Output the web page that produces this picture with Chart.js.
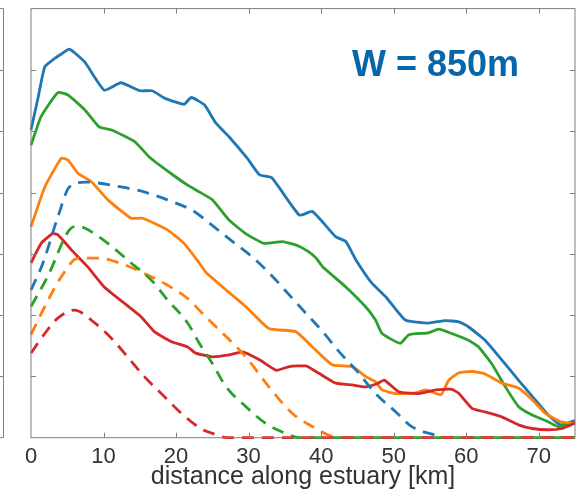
<!DOCTYPE html>
<html>
<head>
<meta charset="utf-8">
<script src="https://cdn.jsdelivr.net/npm/chart.js@4"></script>
<style>
  body { margin: 0; background: #fff; }
</style>
</head>
<body>
<canvas id="estuaryChart" width="588" height="497"></canvas>
<script>
// x ticks (km)
const xTicks = [0, 10, 20, 30, 40, 50, 60, 70];

// solid lines
const blueX = [0, 1.0, 1.9, 3.3, 4.2, 5.3, 7.4, 10.1, 12.4, 15.0, 16.7, 18.4, 21.1, 22.1, 23.9, 25.5, 27.3, 29.8, 31.5, 33.2, 37.0, 38.8, 42.0, 43.4, 44.8, 47.0, 48.9, 51.6, 54.8, 57.1, 59.0, 60.3, 62.6, 64.9, 67.2, 69.5, 71.3, 73.0, 75];
const blueY = [5.02, 5.56, 6.05, 6.19, 6.26, 6.34, 6.13, 5.67, 5.79, 5.66, 5.66, 5.54, 5.44, 5.55, 5.43, 5.13, 4.91, 4.56, 4.29, 4.24, 3.63, 3.69, 3.28, 3.20, 2.90, 2.52, 2.30, 1.92, 1.87, 1.91, 1.89, 1.81, 1.59, 1.27, 0.94, 0.62, 0.37, 0.21, 0.28];

const greenX = [0, 1.4, 3.7, 5.1, 7.4, 9.4, 11.1, 14.3, 16.3, 19.3, 21.6, 23.2, 25.0, 27.3, 29.6, 32.1, 34.7, 37.0, 38.3, 39.3, 40.2, 43.4, 46.1, 47.5, 48.4, 50.9, 52.1, 54.8, 56.2, 58.0, 60.3, 61.7, 63.5, 65.4, 67.2, 69.1, 71.3, 72.7, 75];
const greenY = [4.77, 5.24, 5.63, 5.59, 5.35, 5.07, 5.02, 4.83, 4.58, 4.31, 4.12, 4.01, 3.88, 3.55, 3.33, 3.17, 3.20, 3.12, 3.03, 2.93, 2.79, 2.46, 2.14, 1.92, 1.70, 1.54, 1.68, 1.71, 1.77, 1.70, 1.59, 1.48, 1.21, 0.83, 0.51, 0.37, 0.26, 0.18, 0.26];

const orangeX = [0, 1.9, 4.2, 5.1, 6.5, 8.3, 10.6, 13.8, 15.4, 18.8, 21.1, 23.2, 24.1, 26.9, 29.6, 32.8, 36.5, 38.8, 41.5, 44.3, 46.1, 47.5, 48.4, 50.3, 53.0, 54.4, 56.5, 57.6, 59.0, 60.8, 62.6, 64.9, 67.2, 69.1, 70.9, 73.0, 75];
const orangeY = [3.44, 4.09, 4.56, 4.53, 4.31, 4.18, 3.88, 3.58, 3.58, 3.39, 3.17, 2.85, 2.70, 2.41, 2.14, 1.78, 1.73, 1.48, 1.19, 1.16, 1.00, 0.91, 0.78, 0.72, 0.73, 0.78, 0.70, 0.94, 1.06, 1.08, 1.04, 0.89, 0.81, 0.62, 0.40, 0.26, 0.23];

const redX = [0, 1.4, 3.0, 3.7, 5.6, 7.8, 10.1, 12.9, 15.2, 17.0, 19.3, 21.6, 22.7, 25.0, 27.3, 29.2, 31.5, 33.8, 35.6, 37.9, 39.7, 42.0, 44.3, 46.1, 47.7, 48.7, 50.7, 53.5, 55.8, 58.0, 59.0, 60.8, 62.6, 64.9, 67.2, 69.1, 71.3, 73.2, 75];
const redY = [2.85, 3.17, 3.33, 3.31, 3.06, 2.79, 2.46, 2.19, 1.97, 1.73, 1.57, 1.48, 1.38, 1.32, 1.35, 1.40, 1.27, 1.10, 1.16, 1.17, 1.05, 0.89, 0.86, 0.83, 0.88, 0.94, 0.75, 0.72, 0.78, 0.79, 0.72, 0.48, 0.42, 0.34, 0.21, 0.15, 0.13, 0.15, 0.24];

// dashed lines
const blueDashX = [0, 1.65, 3.7, 5.3, 7.5, 12.4, 15.6, 18.8, 22.5, 24.6, 27.8, 30.5, 33.3, 35.6, 37.9, 40.2, 42.5, 45.2, 47.5, 50.3, 52.5, 55.8, 57, 75];
const blueDashY = [2.41, 2.85, 3.60, 4.09, 4.17, 4.09, 4.01, 3.88, 3.69, 3.50, 3.20, 2.95, 2.63, 2.33, 2.03, 1.73, 1.40, 1.05, 0.72, 0.42, 0.18, 0.04, 0, 0];

const greenDashX = [0, 2.3, 5.3, 6.5, 7.4, 10.6, 13.8, 16.6, 18.8, 21.6, 23.2, 25.0, 26.9, 29.6, 32.4, 35.1, 37, 75];
const greenDashY = [2.14, 2.63, 3.39, 3.45, 3.42, 3.17, 2.85, 2.57, 2.25, 1.87, 1.54, 1.21, 0.83, 0.51, 0.23, 0.07, 0, 0];

const orangeDashX = [0, 1.9, 4.2, 6.5, 9.2, 12.9, 15.6, 18.8, 21.6, 24.1, 26.9, 29.6, 32.8, 36.0, 38.8, 41.1, 43, 75];
const orangeDashY = [1.68, 2.14, 2.63, 2.93, 2.93, 2.82, 2.68, 2.49, 2.27, 1.97, 1.65, 1.32, 0.83, 0.40, 0.18, 0.04, 0, 0];

const redDashX = [0, 1.9, 3.7, 6.0, 8.3, 11.1, 13.3, 15.6, 18.4, 20.7, 23.4, 25.0, 27, 75];
const redDashY = [1.38, 1.70, 1.95, 2.08, 1.92, 1.62, 1.32, 1.00, 0.67, 0.40, 0.15, 0.07, 0, 0];

const BLUE = '#1f77b4', ORANGE = '#ff7f0e', GREEN = '#2ca02c', RED = '#d62728';
const FRAME = '#7f7f7f';
const FONT = '"Liberation Sans", Arial, sans-serif';

const pts = (xs, ys) => xs.map((x, i) => ({ x, y: ys[i] }));

const line = (xs, ys, color, dashed) => ({
    data: pts(xs, ys),
    borderColor: color,
    borderWidth: 2.8,
    borderDash: dashed ? [12, 8] : [],
    pointRadius: 0,
    tension: dashed ? 0.3 : 0.15,
    cubicInterpolationMode: dashed ? 'monotone' : 'default',
    clip: 6
});

// frame with inward ticks, neighbour panel edge and the W label
const framePlugin = {
    id: 'frame',
    afterDatasetsDraw(chart) {
        const { ctx, chartArea: a, scales: { x, y } } = chart;
        ctx.save();
        ctx.strokeStyle = FRAME;
        ctx.lineWidth = 1;
        ctx.strokeRect(a.left, a.top, a.right - a.left, a.bottom - a.top);
        ctx.beginPath();
        xTicks.slice(1).forEach(v => {
            const px = Math.round(x.getPixelForValue(v)) + 0.5;
            ctx.moveTo(px, a.bottom); ctx.lineTo(px, a.bottom - 5);
            ctx.moveTo(px, a.top); ctx.lineTo(px, a.top + 5);
        });
        for (let v = 1; v < 7; v++) {
            const py = Math.round(y.getPixelForValue(v)) + 0.5;
            ctx.moveTo(a.left, py); ctx.lineTo(a.left + 5, py);
            ctx.moveTo(a.right, py); ctx.lineTo(a.right - 5, py);
            ctx.moveTo(3.5, py); ctx.lineTo(0, py);
        }
        // right edge of the neighbouring panel
        ctx.moveTo(3.5, a.top); ctx.lineTo(3.5, a.bottom);
        ctx.moveTo(0, a.top); ctx.lineTo(3.5, a.top);
        ctx.moveTo(0, a.bottom); ctx.lineTo(3.5, a.bottom);
        ctx.stroke();

        ctx.fillStyle = '#0766a9';
        ctx.font = 'bold 36px ' + FONT;
        ctx.textAlign = 'left';
        ctx.textBaseline = 'alphabetic';
        ctx.fillText('W = 850m', 352, 76);
        ctx.restore();
    }
};

new Chart(document.getElementById('estuaryChart'), {
    type: 'line',
    data: {
        datasets: [
            line(redDashX, redDashY, RED, true),
            line(greenDashX, greenDashY, GREEN, true),
            line(orangeDashX, orangeDashY, ORANGE, true),
            line(blueDashX, blueDashY, BLUE, true),
            line(redX, redY, RED, false),
            line(orangeX, orangeY, ORANGE, false),
            line(greenX, greenY, GREEN, false),
            line(blueX, blueY, BLUE, false)
        ]
    },
    options: {
        responsive: false,
        animation: false,
        layout: { padding: { left: 31, right: 13, top: 8.6, bottom: 0 } },
        plugins: {
            legend: { display: false },
            tooltip: { enabled: false }
        },
        scales: {
            x: {
                type: 'linear',
                min: 0,
                max: 75,
                afterBuildTicks: scale => { scale.ticks = xTicks.map(v => ({ value: v })); },
                afterFit: scale => { scale.height = 59.3; },
                grid: { display: false, drawTicks: false },
                border: { display: false },
                ticks: {
                    padding: 6.2,
                    color: '#333',
                    font: { family: FONT, size: 22 }
                },
                title: {
                    display: true,
                    text: 'distance along estuary [km]',
                    color: '#333',
                    padding: { top: 0, bottom: 5 },
                    font: { family: FONT, size: 25 }
                }
            },
            y: {
                display: false,
                min: 0,
                max: 7
            }
        }
    },
    plugins: [framePlugin]
});
</script>
</body>
</html>
